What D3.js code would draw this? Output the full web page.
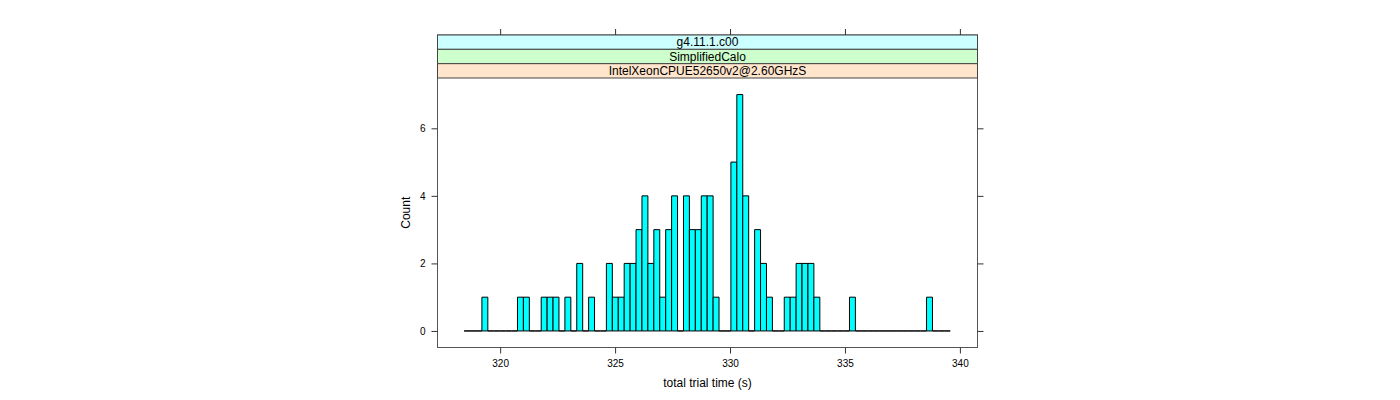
<!DOCTYPE html>
<html>
<head>
<meta charset="utf-8">
<script src="https://cdn.jsdelivr.net/npm/d3@7"></script>
<style>
  html, body { margin: 0; padding: 0; background: #fff; }
  svg { display: block; }
  text { font-family: "Liberation Sans", Arial, Helvetica, sans-serif; fill: #000; }
</style>
</head>
<body>
<svg id="chart" width="1400" height="400"></svg>
<script>
// ---- data ----
const stripLabels = ["g4.11.1.c00", "SimplifiedCalo", "IntelXeonCPUE52650v2@2.60GHzS"];
const stripColors = ["#ccffff", "#ccffcc", "#ffe5cc"];
const breakStart = 318.433;   // first histogram break (s)
const binWidth = 0.2579;      // histogram bin width (s)
const counts = [
  0, 0, 0, 1, 0, 0, 0, 0, 0, 1,
  1, 0, 0, 1, 1, 1, 0, 1, 0, 2,
  0, 1, 0, 0, 2, 1, 1, 2, 2, 3,
  4, 2, 3, 1, 3, 4, 0, 4, 3, 3,
  4, 4, 1, 0, 0, 5, 7, 4, 0, 3,
  2, 1, 0, 0, 1, 1, 2, 2, 2, 1,
  0, 0, 0, 0, 0, 1, 0, 0, 0, 0,
  0, 0, 0, 0, 0, 0, 0, 0, 1, 0,
  0, 0
];
const xTicks = [320, 325, 330, 335, 340];
const yTicks = [0, 2, 4, 6];
const xDomain = [317.275, 340.766];
const yDomain = [-0.49, 7.49];
const xTitle = "total trial time (s)";
const yTitle = "Count";

// ---- layout ----
const panel = { left: 437.5, right: 977.5, top: 78, bottom: 347.5 };
const stripTop = 35;
const stripH = (panel.top - stripTop) / stripLabels.length;

const svg = d3.select("#chart");
const x = d3.scaleLinear().domain(xDomain).range([panel.left, panel.right]);
const y = d3.scaleLinear().domain(yDomain).range([panel.bottom, panel.top]);

// bars (including zero-count bins, drawn as paths so they show a baseline)
const bins = counts.map((c, i) => ({ x0: breakStart + i * binWidth, x1: breakStart + (i + 1) * binWidth, count: c }));
svg.append("g").selectAll("path").data(bins).join("path")
  .attr("d", d => {
    const p = d3.path();
    const xa = x(d.x0), xb = x(d.x1), y0 = y(0), y1 = y(d.count);
    p.moveTo(xa, y0); p.lineTo(xa, y1); p.lineTo(xb, y1); p.lineTo(xb, y0); p.closePath();
    return p.toString();
  })
  .attr("fill", "#00ffff")
  .attr("stroke", "#000")
  .attr("stroke-width", 1)
  .attr("stroke-linejoin", "miter");

// panel border
svg.append("rect")
  .attr("x", panel.left).attr("y", stripTop)
  .attr("width", panel.right - panel.left).attr("height", panel.bottom - stripTop)
  .attr("fill", "none").attr("stroke", "#555").attr("stroke-width", 1);

// strips (outermost on top)
const strips = svg.append("g");
stripLabels.forEach((lab, i) => {
  const y0 = stripTop + i * stripH;
  strips.append("rect")
    .attr("x", panel.left).attr("y", y0)
    .attr("width", panel.right - panel.left).attr("height", stripH)
    .attr("fill", stripColors[i]).attr("stroke", "#444").attr("stroke-width", 1);
  strips.append("text")
    .attr("x", (panel.left + panel.right) / 2)
    .attr("y", y0 + stripH / 2 + 4.2)
    .attr("text-anchor", "middle")
    .attr("font-size", 12)
    .text(lab);
});

// axes
function styleAxis(g) {
  g.select(".domain").remove();
  g.selectAll(".tick line").attr("stroke", "#333");
  g.selectAll(".tick text").attr("font-size", 10).attr("font-family", "'Liberation Sans', Arial, sans-serif").attr("fill", "#000");
}
svg.append("g").attr("transform", `translate(0,${panel.bottom})`)
  .call(d3.axisBottom(x).tickValues(xTicks).tickSize(6).tickPadding(6).tickFormat(d3.format("d")))
  .call(styleAxis);
svg.append("g").attr("transform", `translate(0,${stripTop})`)
  .call(d3.axisTop(x).tickValues(xTicks).tickSize(6).tickFormat(""))
  .call(styleAxis);
svg.append("g").attr("transform", `translate(${panel.left},0)`)
  .call(d3.axisLeft(y).tickValues(yTicks).tickSize(6).tickPadding(6).tickFormat(d3.format("d")))
  .call(styleAxis);
svg.append("g").attr("transform", `translate(${panel.right},0)`)
  .call(d3.axisRight(y).tickValues(yTicks).tickSize(6).tickFormat(""))
  .call(styleAxis);

// titles
svg.append("text")
  .attr("x", (panel.left + panel.right) / 2).attr("y", 387)
  .attr("text-anchor", "middle").attr("font-size", 12)
  .text(xTitle);
svg.append("text")
  .attr("transform", `translate(410,${(panel.top + panel.bottom) / 2}) rotate(-90)`)
  .attr("text-anchor", "middle").attr("font-size", 12)
  .text(yTitle);
</script>
</body>
</html>
